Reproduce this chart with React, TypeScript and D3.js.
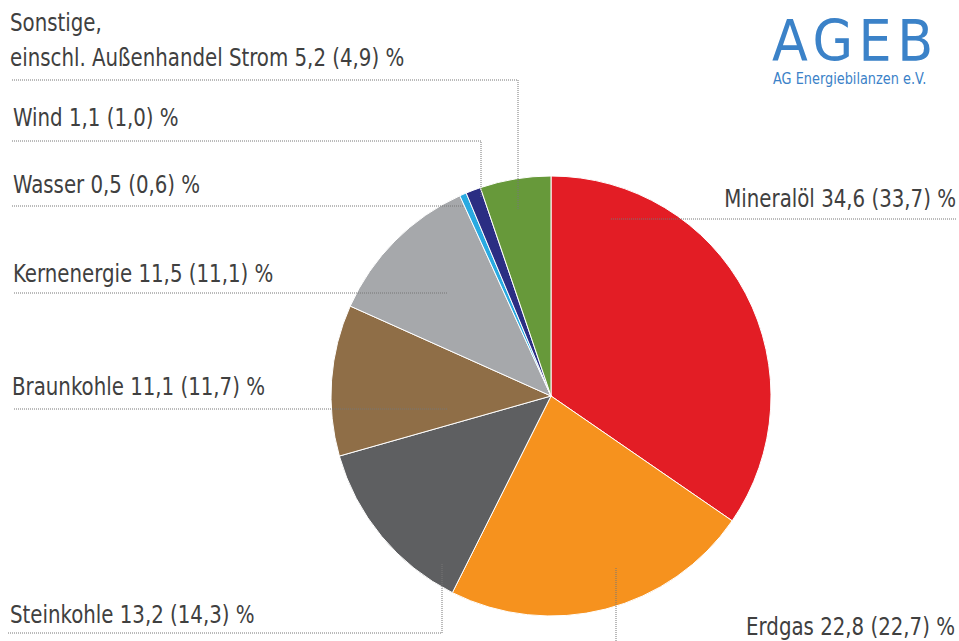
import React from "react";
import * as d3 from "d3";

const categories = ["Mineralöl", "Erdgas", "Steinkohle", "Braunkohle", "Kernenergie", "Wasser", "Wind", "Sonstige"];
const values = [34.6, 22.8, 13.2, 11.1, 11.5, 0.5, 1.1, 5.2];
const previous = ["33,7", "22,7", "14,3", "11,7", "11,1", "0,6", "1,0", "4,9"];
const colors = ["#e31d25", "#f6921e", "#5e5f61", "#8f6e47", "#a6a8ab", "#29aae1", "#2b2e83", "#67993a"];

const fmt = (v: number) => v.toFixed(1).replace(".", ",");

// label layout: text anchor/pos and leader polyline
const layout: Record<string, { tx: number; ty: number; anchor: string; lines?: string[]; pts: [number, number][] }> = {
  "Mineralöl": { tx: 956, ty: 207, anchor: "end", pts: [[956, 219], [610, 219]] },
  "Erdgas": { tx: 955, ty: 635, anchor: "end", pts: [[616, 641], [616, 567]] },
  "Steinkohle": { tx: 10, ty: 623, anchor: "start", pts: [[8, 633], [442, 633], [442, 563]] },
  "Braunkohle": { tx: 12, ty: 395, anchor: "start", pts: [[14, 409], [448, 409]] },
  "Kernenergie": { tx: 13, ty: 282, anchor: "start", pts: [[14, 293], [448, 293]] },
  "Wasser": { tx: 13, ty: 193, anchor: "start", pts: [[12, 206], [463, 206]] },
  "Wind": { tx: 13, ty: 126, anchor: "start", pts: [[12, 141], [481, 141], [481, 198]] },
  "Sonstige": { tx: 10, ty: 66, anchor: "start", lines: ["Sonstige,", "einschl. Außenhandel Strom"], pts: [[12, 80], [518, 80], [518, 210]] },
};

const SX = 0.88;

export default function App() {
  const width = 959, height = 641;
  const cx = 551, cy = 396, r = 220;
  const pie = d3.pie<number>().sort(null).value((d) => d);
  const arcs = pie(values);
  const arc = d3.arc<d3.PieArcDatum<number>>().innerRadius(0).outerRadius(r);
  const line = d3.line();
  const font = "'DejaVu Sans Condensed', 'DejaVu Sans', sans-serif";
  const st: React.CSSProperties = { fontStretch: "condensed" };
  return (
    <svg width={width} height={height} style={{ position: "absolute", left: 0, top: 0, background: "#fff" }}>
      <g transform={`translate(${cx},${cy})`}>
        {arcs.map((a, i) => (
          <path key={i} d={arc(a) || ""} fill={colors[i]} stroke="#fff" strokeWidth={1} />
        ))}
      </g>
      {categories.map((c, i) => {
        const L = layout[c];
        return (
          <path key={"l" + i} d={line(L.pts) || ""} fill="none" stroke="#777" strokeWidth={1} strokeDasharray="1 1" />
        );
      })}
      {categories.map((c, i) => {
        const L = layout[c];
        const label = `${fmt(values[i])} (${previous[i]}) %`;
        if (L.lines) {
          return (
            <g key={"t" + i}>
              <text transform={`translate(${L.tx},${L.ty - 35}) scale(${SX},1)`} fontFamily={font} style={st} fontSize={25} fill="#404040" textAnchor={L.anchor as any}>
                {L.lines[0]}
              </text>
              <text transform={`translate(${L.tx},${L.ty}) scale(${SX},1)`} fontFamily={font} style={st} fontSize={25} fill="#404040" textAnchor={L.anchor as any}>
                {`${L.lines[1]} ${label}`}
              </text>
            </g>
          );
        }
        return (
          <text key={"t" + i} transform={`translate(${L.tx},${L.ty}) scale(${SX},1)`} fontFamily={font} style={st} fontSize={25} fill="#404040" textAnchor={L.anchor as any}>
            {`${c} ${label}`}
          </text>
        );
      })}
      <text transform="translate(772,61) scale(0.92,1)" fontFamily="'DejaVu Sans', sans-serif" fontSize={57} fill="#3b82c8" letterSpacing={6}>AGEB</text>
      <text transform="translate(773,84) scale(0.86,1)" fontFamily="'DejaVu Sans', sans-serif" fontSize={15} fill="#3b82c8">AG Energiebilanzen e.V.</text>
    </svg>
  );
}
